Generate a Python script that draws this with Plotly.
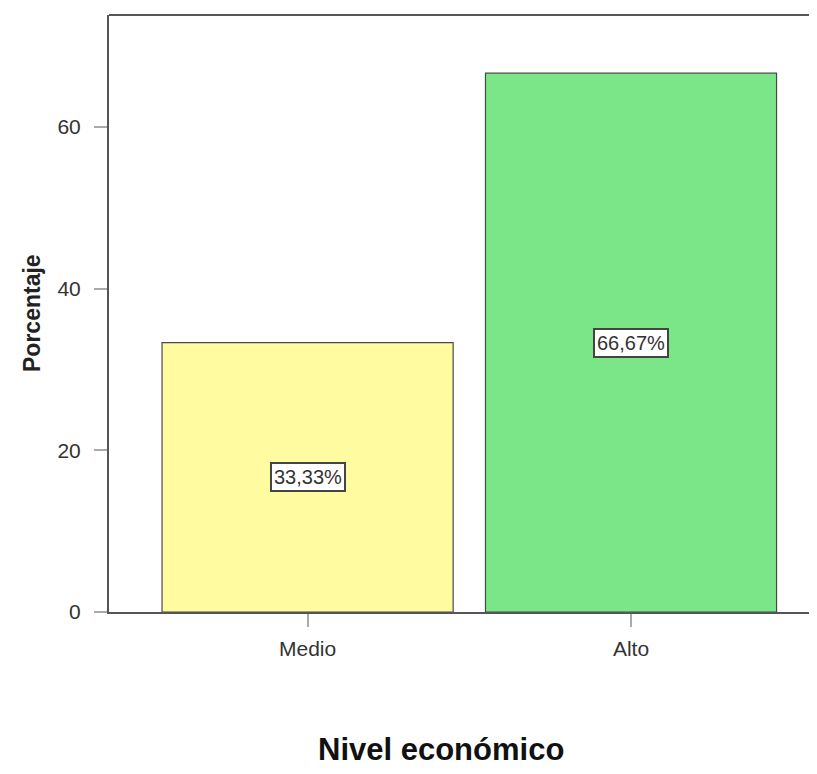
import plotly.graph_objects as go

categories = ["Medio", "Alto"]
values = [33.33, 66.67]
labels = ["33,33%", "66,67%"]
colors = ["#FFFBA0", "#7AE688"]

y_ticks = [0, 20, 40, 60]

FONT = "Liberation Sans, Arial, sans-serif"

fig = go.Figure()
fig.add_trace(go.Bar(
    x=categories, y=values, width=0.9,
    marker=dict(color=colors, line=dict(color="#4a4a4a", width=1.2)),
    hoverinfo="skip",
))

for c, v, t in zip(categories, values, labels):
    fig.add_annotation(
        x=c, y=v / 2, text=t, showarrow=False,
        font=dict(family=FONT, size=20, color="#333333"),
        bgcolor="white", bordercolor="#444444", borderwidth=2, borderpad=2,
    )

axis_font = dict(family=FONT, size=21, color="#333333")

W, H = 809, 758
L, T, B = 101, 7, 154
PW, PH = W - L, H - T - B

fig.update_layout(
    width=W, height=H,
    margin=dict(l=L, r=0, t=T, b=B),
    plot_bgcolor="white", paper_bgcolor="white",
    showlegend=False,
    xaxis=dict(
        range=[-0.614, 1.575], showgrid=False, zeroline=False,
        showline=True, linecolor="#555555", linewidth=2,
        ticks="outside", ticklen=13, tickcolor="#aaaaaa", tickwidth=1.5,
        tickfont=axis_font, ticklabelstandoff=4,
    ),
    yaxis=dict(
        range=[0, 73.87], tickvals=y_ticks, showgrid=False, zeroline=False,
        showline=True, linecolor="#555555", linewidth=2,
        ticks="outside", ticklen=13, tickcolor="#aaaaaa", tickwidth=1.5,
        tickfont=axis_font, ticklabelstandoff=9,
    ),
    shapes=[
        dict(type="line", xref="paper", yref="paper", x0=0, x1=1, y0=1, y1=1,
             line=dict(color="#555555", width=2)),
    ],
)

# Axis titles placed in paper coordinates (page x≈32, y≈313 ; page x≈441, y≈750)
fig.add_annotation(
    text="Porcentaje", xref="paper", yref="paper",
    x=(32 - 8 - L) / PW, y=1 - (313 - 8 - T) / PH,
    textangle=-90, showarrow=False, xanchor="center", yanchor="middle",
    font=dict(family=FONT, size=23, color="#222222", weight="bold"),
)
fig.add_annotation(
    text="Nivel económico", xref="paper", yref="paper",
    x=(441 - 8 - L) / PW, y=1 - (750 - 8 - T) / PH,
    showarrow=False, xanchor="center", yanchor="middle",
    font=dict(family=FONT, size=31, color="#111111", weight="bold"),
)

fig.write_html("out.html")
